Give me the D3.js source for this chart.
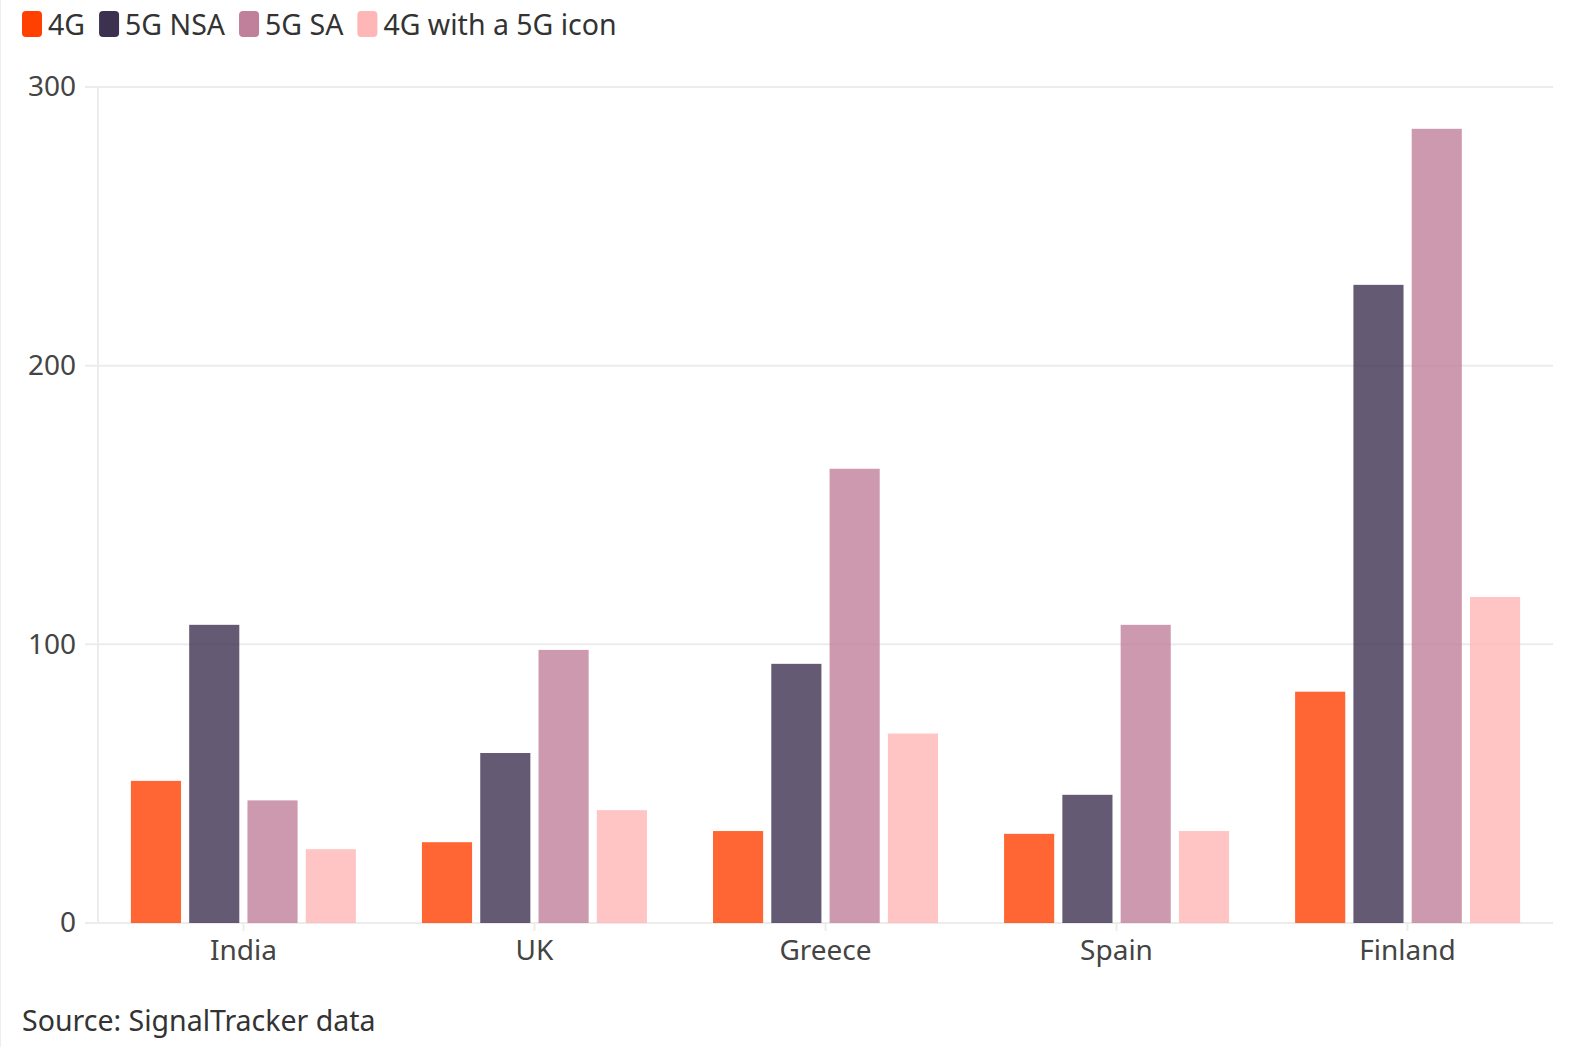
<!DOCTYPE html>
<html>
<head>
<meta charset="utf-8">
<style>
  html, body { margin: 0; background: #fff; overflow: hidden; }
  svg { display: block; width: 100vw; height: 100vh; font-family: "Noto Sans", "Open Sans", sans-serif; }
  .axis .domain { display: none; }
</style>
</head>
<body>
<svg viewBox="0 0 1576 1047" preserveAspectRatio="none" data-w="1576" data-h="1047"></svg>
<script src="https://d3js.org/d3.v7.min.js"></script>
<script>

var countries = ["India", "UK", "Greece", "Spain", "Finland"];
var seriesNames = ["4G", "5G NSA", "5G SA", "4G with a 5G icon"];
var colors = ["#ff4000", "#3d3150", "#c07f9a", "#ffb6b6"];

var g4 = [51, 29, 33, 32, 83];
var g5nsa = [107, 61, 93, 46, 229];
var g5sa = [44, 98, 163, 107, 285];
var g4icon = [26.5, 40.5, 68, 33, 117];
var yTicks = [0, 100, 200, 300];

var values = [g4, g5nsa, g5sa, g4icon];

var svg = d3.select("svg"),
    margin = {top: 87, right: 23, bottom: 124, left: 98},
    width = +svg.attr("data-w") - margin.left - margin.right,
    height = +svg.attr("data-h") - margin.top - margin.bottom;

// faint left border
svg.append("line")
    .attr("x1", 0.5).attr("x2", 0.5).attr("y1", 0).attr("y2", 1047)
    .attr("stroke", "#eee").attr("stroke-width", 1);

var g = svg.append("g").attr("transform", "translate(" + margin.left + "," + margin.top + ")");

var x0 = d3.scaleBand()
    .domain(countries)
    .range([0, width])
    .paddingInner(0.227)
    .paddingOuter(0.113);

var x1 = d3.scaleBand()
    .domain(seriesNames)
    .range([0, x0.bandwidth()])
    .paddingInner(0.14);

var xc = d3.scaleBand().domain(countries).range([0, width]);

var y = d3.scaleLinear()
    .domain([0, 300])
    .range([height, 0]);

var z = d3.scaleOrdinal().domain(seriesNames).range(colors);

// grid lines
g.append("g")
    .selectAll("line")
    .data(yTicks)
    .enter().append("line")
      .attr("x1", -13)
      .attr("x2", width)
      .attr("y1", function(d) { return y(d); })
      .attr("y2", function(d) { return y(d); })
      .attr("stroke", "#ececec")
      .attr("stroke-width", 2);

// y axis line
g.append("line")
    .attr("x1", 0).attr("x2", 0)
    .attr("y1", y(300)).attr("y2", y(0))
    .attr("stroke", "#ececec")
    .attr("stroke-width", 2);

// y labels
g.append("g")
    .attr("class", "axis")
    .call(d3.axisLeft(y).tickValues(yTicks).tickSize(0).tickPadding(22))
    .call(function(a) {
      a.selectAll("text")
        .attr("font-size", 28)
        .attr("fill", "#444")
        .attr("font-family", "\"Noto Sans\", sans-serif");
    });

// bars
var rows = countries.map(function(c, i) {
  return {country: c, vals: seriesNames.map(function(s, j) { return {key: s, value: values[j][i]}; })};
});

g.append("g")
  .selectAll("g")
  .data(rows)
  .enter().append("g")
    .attr("transform", function(d) { return "translate(" + x0(d.country) + ",0)"; })
  .selectAll("rect")
  .data(function(d) { return d.vals; })
  .enter().append("rect")
    .attr("x", function(d) { return x1(d.key); })
    .attr("y", function(d) { return y(d.value); })
    .attr("width", x1.bandwidth())
    .attr("height", function(d) { return y(0) - y(d.value); })
    .attr("fill", function(d) { return z(d.key); })
    .attr("fill-opacity", 0.8);

// x axis
g.append("g")
    .attr("class", "axis")
    .attr("transform", "translate(0," + height + ")")
    .call(d3.axisBottom(xc).tickSize(8).tickPadding(9))
    .call(function(a) {
      a.selectAll("line").attr("stroke", "#ececec").attr("stroke-width", 2);
      a.selectAll("text")
        .attr("font-size", 28)
        .attr("fill", "#444")
        .attr("font-family", "\"Noto Sans\", sans-serif");
    });

// legend
var legend = svg.append("g")
    .attr("font-size", 28.5)
    .attr("fill", "#333");

var lx = 22;
seriesNames.forEach(function(s, i) {
  var item = legend.append("g").attr("transform", "translate(" + lx + ",0)");
  item.append("rect")
      .attr("x", 0).attr("y", 11)
      .attr("width", 20).attr("height", 26)
      .attr("rx", 4)
      .attr("fill", colors[i]);
  var t = item.append("text")
      .attr("x", 26)
      .attr("y", 35)
      .text(s);
  lx += 26 + t.node().getComputedTextLength() + 14;
});

// source
svg.append("text")
    .attr("x", 22)
    .attr("y", 1031)
    .attr("font-size", 28.5)
    .attr("fill", "#333")
    .text("Source: SignalTracker data");

</script>
</body>
</html>
